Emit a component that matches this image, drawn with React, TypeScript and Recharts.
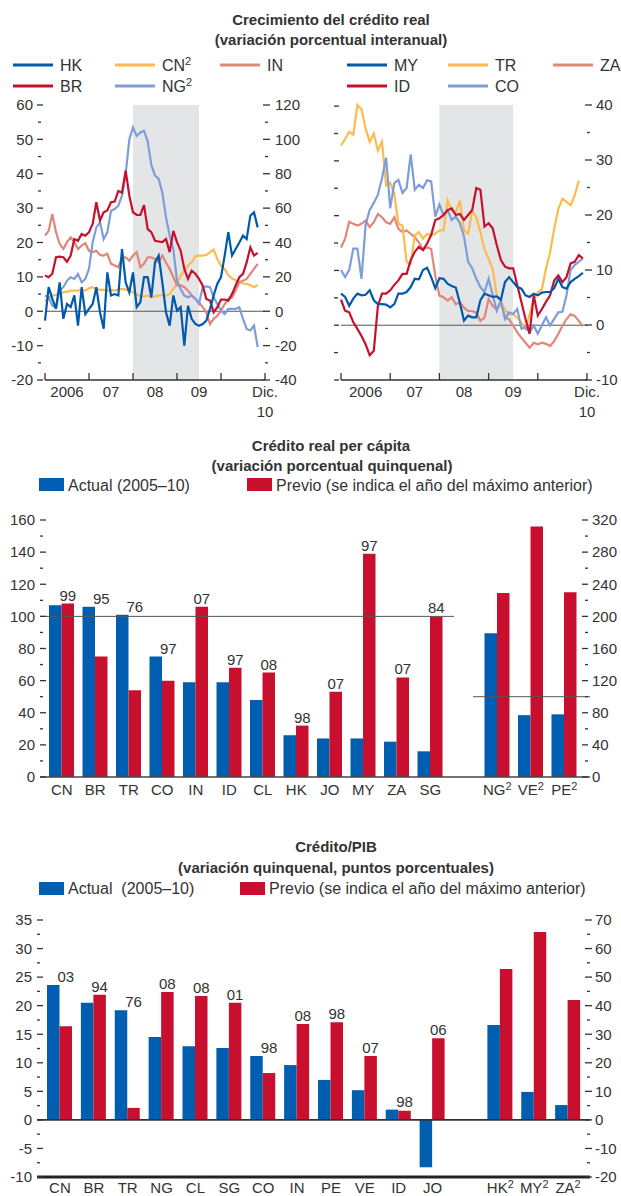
import React from "react";
import {
  LineChart,
  Line,
  XAxis,
  YAxis,
  ReferenceArea,
  ReferenceLine,
  BarChart,
  Bar,
  LabelList,
} from "recharts";

const FONT = '"Liberation Sans", Arial, sans-serif';
const INK = "#333333";
const DARK = "#005aab";
const RED = "#c8102e";
const ORANGE = "#fdbb4d";
const SALMON = "#e0877a";
const LIGHT = "#7f9ed8";
const BAR_BLUE = "#005eb0";
const SHADE = "#e4e5e7";

// ---------- line charts (monthly, Jan 2006 = 0) ----------
const hk = [-2.7, 7, 3.6, 0.7, 8.4, -2.2, 2.1, 1.2, 4.6, -4.2, 7, -0.8, 0.7, 2.1, 7, -0.3, -5.1, 11.3, 4.6, 5, 4.6, 18.1, 8.4, 5.5, 11.3, 1.2, 2.6, 9.9, 9.9, 4, 14.2, 16.2, 8.4, -0.3, -4.2, 4.6, 0.2, 1.2, -10, 1.6, -2.2, -3.7, -4.2, -3.7, -2.7, 0.7, 4.6, 8, 9.9, 16.2, 23, 16.2, 18.1, 20, 22, 21, 27.8, 28.8, 24.4];
const br = [10.4, 9.9, 10.9, 15.7, 15.9, 15.7, 14.4, 16.2, 21, 20.5, 22.5, 22, 23, 25.4, 31.7, 26.4, 28.8, 29.3, 31.7, 31.9, 35, 34.5, 40.9, 33.6, 28.8, 28, 28, 30.9, 23.9, 23, 20.5, 20.3, 20.1, 21, 17.2, 23.4, 20.1, 17.6, 12.3, 9.4, 11.8, 10.9, 9.4, 7.5, 3.6, 3.1, -0.3, 1.2, 3.4, 3.4, 3.1, 5, 7.5, 9.9, 10.9, 14.2, 18.6, 16.2, 17];
const inn = [22, 23.4, 28.3, 23, 19.6, 18.1, 20.1, 21.5, 20.1, 18.1, 19.1, 19.8, 17.6, 17.2, 17.6, 16.4, 16.2, 16.7, 13.8, 13.3, 12.8, 15.7, 15.7, 14.7, 16.2, 17.2, 12.8, 13.8, 15.7, 15.7, 15.2, 14.2, 16.2, 14.2, 12.3, 9.9, 7.5, 7.5, 7, 6, 4.6, 3.6, 2.6, 1.2, -0.3, -3.7, -2.2, -1.3, 0.2, 2.1, 3.6, 4, 6, 8.4, 8.9, 9.4, 10.9, 12.3, 13.8];
const cn = [5.6, 8.2, 9.1, 9.5, 10, 11, 11.4, 12, 12, 12, 12.4, 12, 13.4, 14, 13, 12.4, 12.6, 12, 12.4, 12, 12.6, 13, 12.6, 12, 11, 9.5, 9.1, 8.5, 9.1, 8.1, 8.7, 9.1, 9.5, 9.1, 10, 13, 16, 20.7, 23.6, 26.6, 28.5, 32, 32.4, 32.4, 32.8, 34.3, 35.9, 30.4, 26.6, 24.6, 21, 19, 18, 17.2, 16, 16, 15.3, 14, 15.3];
const ng = [9.1, 8.1, 3.3, 2.3, 12, 14, 17.8, 19.8, 18.8, 21.7, 16.9, 18.8, 24.6, 40.1, 48.8, 51.7, 42, 45.9, 58.5, 59.5, 61.4, 67.2, 79.8, 100, 107, 102, 104, 105, 99, 85, 79, 77, 69, 54.7, 44, 36, 17.8, 13, 9.1, 8.1, 9.1, 7.2, 4.3, 14, 14.5, 14, 8.1, 4.3, 0.4, -1.6, 1.4, 1.4, 1.4, 2.3, -4.5, -10.3, -11.2, -8.3, -20.9];

const tr = [32.8, 34, 35.3, 34.8, 40.2, 39.4, 35.9, 33.5, 35, 31.9, 33.5, 25.5, 26, 24, 18.5, 18.2, 11.5, 11.2, 16.4, 17, 15.8, 16.7, 16.4, 16.7, 17.3, 17.3, 22.8, 20.9, 20.6, 22.8, 17.3, 16.7, 20.9, 19.7, 17, 13.9, 12.1, 10.3, 5.4, 4.2, 2.9, 2, 2, 1.4, 0.5, -0.7, 2, 4.8, 6, 6.6, 10.3, 13.3, 17.6, 21.2, 23.1, 22.5, 21.9, 23.7, 26.4, null];
const co = [10, 8.7, 10, 13.9, 13.9, 8.4, 18.2, 20.9, 22.2, 23.7, 26.7, 30.4, 21.2, 25.8, 26.4, 24, 24.9, 31, 24.6, 25.5, 24.9, 26.3, 26.1, 19.7, 21.9, 20, 20.9, 19.1, 19.7, 18.5, 16.1, 11.5, 10.3, 8.4, 6.9, 6, 8.4, 5.4, 2.6, 4.5, 1.1, 2.3, 2, 2.9, -0.7, -0.4, -1.3, -0.1, -1.6, -0.1, 1.4, -0.1, 1.1, 2.3, 2.4, 5.4, 10, 10.9, 11.5, 12.1];
const za = [14.2, 15.8, 18.9, 18.5, 18.2, 18.5, 19.1, 17.9, 18.8, 20.3, 19.7, 18.8, 18.5, 19.7, 17.6, 17, 17.3, 16.7, 16.1, 15.1, 13.9, 14.2, 13.9, 9, 5.4, 5.1, 4.5, 5.1, 3.8, 4.2, 3.2, 2.6, 2.6, 2.3, 0.8, 1.4, 4.8, 3.5, 2.9, 4.2, 1.4, 1.1, -0.1, -1.3, -2.3, -3.2, -4.1, -3.2, -3.5, -3.2, -3.4, -3.8, -2.9, -1.6, -0.1, 1.1, 2, 1.7, 0.8, -0.2];
const id = [4.6, 2.6, 2.3, 0.5, -0.7, -2, -3.5, -5.5, -4.7, 3.5, 5.7, 5.7, 6.3, 7.3, 8.1, 9.3, 9.3, 11.8, 13.3, 14.2, 13.6, 14.8, 16.4, 19.1, 19.4, 20, 20.9, 21.2, 20, 20.2, 19.1, 20, 20.9, 24.9, 24.6, 17.9, 18.5, 17.6, 14.5, 11.8, 10.6, 10.3, 10.3, 7.2, 4.2, 1.1, -1.6, 5.4, 1.7, 2.9, 4.2, 5.4, 8.1, 9, 7.8, 8.7, 11.2, 11.5, 12.7, 12.1];
const my = [5.7, 5.1, 3.5, 4.8, 5.7, 5.4, 5.5, 6.3, 4.5, 3.8, 3.8, 3.7, 3.2, 3.8, 5.7, 5.7, 6, 6.9, 8.4, 8.3, 10, 10.4, 8.7, 6.7, 8.5, 8.4, 7.5, 7.1, 6.8, 4, 0.8, 1.7, 1.4, 1.4, 4.5, 5.7, 5.4, 5.1, 5.2, 4.6, 7.8, 8.7, 7.8, 6.9, 6.6, 5.4, 5.1, 5.7, 5.4, 5.9, 6, 6, 6.7, 8.4, 6.9, 6.6, 7.8, 8.4, 8.9, 9.5];

const yearTickValues = [0, 12, 24, 36, 48, 60];
const yearTickLabels = ["2006", "07", "08", "09", "", "Dic."];
const lastYearLabel = "10";
const shadeFrom = 24;
const shadeTo = 42;

const leftRows = hk.map((v, i) => ({ m: i, HK: v, BR: br[i], IN: inn[i], CN: cn[i], NG: ng[i] }));
const rightRows = my.map((v, i) => ({ m: i, MY: v, TR: tr[i], ZA: za[i], ID: id[i], CO: co[i] }));

const leftLegend = [
  { key: "HK", color: DARK, sup: false },
  { key: "CN", color: ORANGE, sup: true },
  { key: "IN", color: SALMON, sup: false },
  { key: "BR", color: RED, sup: false },
  { key: "NG", color: LIGHT, sup: true },
];
const rightLegend = [
  { key: "MY", color: DARK, sup: false },
  { key: "TR", color: ORANGE, sup: false },
  { key: "ZA", color: SALMON, sup: false },
  { key: "ID", color: RED, sup: false },
  { key: "CO", color: LIGHT, sup: false },
];

// ---------- real credit per capita ----------
const perCapitaCats = ["CN", "BR", "TR", "CO", "IN", "ID", "CL", "HK", "JO", "MY", "ZA", "SG", "", "NG", "VE", "PE"];
const perCapitaActual = [107, 106, 101, 75, 59, 59, 48, 26, 24, 24, 22, 16, null, 179, 77, 78];
const perCapitaPrevious = [108, 75, 54, 60, 106, 68, 65, 32, 53, 139, 62, 100, null, 229, 312, 230];
const perCapitaPeak = ["99", "95", "76", "97", "07", "97", "08", "98", "07", "97", "07", "84", "", "08", "08", "98"];
const perCapitaRightAxis = ["NG", "VE", "PE"];

// ---------- credit / GDP ----------
const gdpCats = ["CN", "BR", "TR", "NG", "CL", "SG", "CO", "IN", "PE", "VE", "ID", "JO", "", "HK", "MY", "ZA"];
const gdpActual = [23.6, 20.5, 19.2, 14.5, 12.9, 12.6, 11.2, 9.6, 7.0, 5.2, 1.8, -8.3, null, 33.2, 9.8, 5.2];
const gdpPrevious = [16.4, 21.9, 2.1, 22.4, 21.7, 20.5, 8.2, 16.8, 17.1, 11.2, 1.6, 14.3, null, 52.8, 65.8, 42];
const gdpPeak = ["03", "94", "76", "08", "08", "01", "98", "08", "98", "07", "98", "06", "", "97", "97", "07"];
const gdpRightAxis = ["HK", "MY", "ZA"];

const toRows = (cats: string[], cur: (number | null)[], prev: (number | null)[], right: string[]) =>
  cats.map((cat, i) => {
    const r = right.includes(cat);
    return {
      pos: i,
      cat,
      curL: r ? null : cur[i],
      curR: r ? cur[i] : null,
      prevL: r ? null : prev[i],
      prevR: r ? prev[i] : null,
    };
  });

const perCapitaRows = toRows(perCapitaCats, perCapitaActual, perCapitaPrevious, perCapitaRightAxis);
const gdpRows = toRows(gdpCats, gdpActual, gdpPrevious, gdpRightAxis);

// ---------- tick helpers ----------
type TickSpec = { a: number; b: number; ma: number; mb: number; lx: number; anchor: "start" | "end"; every: number; labels?: boolean };

const makeYTick = (s: TickSpec) => (props: any) => {
  const { x, y, payload } = props;
  const v = Number(payload.value);
  const q = v / s.every;
  const major = Math.abs(q - Math.round(q)) < 1e-6;
  return (
    <g>
      <line x1={x + (major ? s.a : s.ma)} x2={x + (major ? s.b : s.mb)} y1={y} y2={y} stroke={INK} strokeWidth={1.3} />
      {major && s.labels !== false && (
        <text x={x + s.lx} y={y} dy={5.3} textAnchor={s.anchor} fontSize={15} fill={INK} fontFamily={FONT}>
          {v}
        </text>
      )}
    </g>
  );
};

const makeYearTick = (half: number) => (props: any) => {
  const { x, y, payload } = props;
  const k = Math.round(Number(payload.value) / 12);
  const label = yearTickLabels[k];
  const last = k === yearTickLabels.length - 1;
  return (
    <g>
      <line x1={x} x2={x} y1={y - 7} y2={y} stroke={INK} strokeWidth={1.3} />
      {label && !last && (
        <text x={x + half} y={y + 17} textAnchor="middle" fontSize={15} fill={INK} fontFamily={FONT}>
          {label}
        </text>
      )}
      {last && (
        <text textAnchor="middle" fontSize={15} fill={INK} fontFamily={FONT}>
          <tspan x={x} y={y + 17}>{label}</tspan>
          <tspan x={x} y={y + 37}>{lastYearLabel}</tspan>
        </text>
      )}
    </g>
  );
};

const makeCatTick = (sup: string[], dy: number) => (props: any) => {
  const { x, y, payload } = props;
  const name = String(payload.value);
  return (
    <text x={x} y={y + dy} textAnchor="middle" fontSize={15} fill={INK} fontFamily={FONT}>
      {name}
      {sup.includes(name) && (
        <tspan dy={-5} fontSize={11}>
          2
        </tspan>
      )}
    </text>
  );
};

const makePeakLabel = (
  cats: string[],
  cur: (number | null)[],
  prev: (number | null)[],
  peaks: string[],
  right: string[],
  onRight: boolean
) => (props: any) => {
  const idx = props.index;
  if (idx == null) return null;
  const cat = cats[idx];
  if (!cat || right.includes(cat) !== onRight) return null;
  const p = prev[idx];
  const c = cur[idx];
  if (p == null || c == null) return null;
  const vb = props.viewBox || {};
  const x = Number(props.x ?? vb.x);
  const y = Number(props.y ?? vb.y);
  const w = Number(props.width ?? vb.width);
  const h = Number(props.height ?? vb.height);
  const base = y + h;
  const top = base - (h * Math.max(p, c, 0)) / p;
  return (
    <text x={x + w / 2} y={top - 3} textAnchor="middle" fontSize={15} fill={INK} fontFamily={FONT}>
      {peaks[idx]}
    </text>
  );
};

function Legend({ items, xs, ys }: { items: { key: string; color: string; sup: boolean }[]; xs: number[]; ys: number[] }) {
  return (
    <>
      {items.map((it, i) => {
        const x = xs[i % 3];
        const y = ys[Math.floor(i / 3)];
        return (
          <g key={it.key}>
            <line x1={x} x2={x + 40} y1={y} y2={y} stroke={it.color} strokeWidth={3} />
            <text x={x + 47} y={y + 6} fontSize={16} fill={INK} fontFamily={FONT}>
              {it.key}
              {it.sup && (
                <tspan dy={-6} fontSize={11}>
                  2
                </tspan>
              )}
            </text>
          </g>
        );
      })}
    </>
  );
}

const lineProps = { type: "linear" as const, dot: false, strokeWidth: 2.2, isAnimationActive: false };

export default function App() {
  return (
    <div style={{ position: "relative", width: 621, height: 1196, overflow: "hidden", background: "#fff", fontFamily: FONT }}>
      <style>{`html,body{margin:0;padding:0;overflow:hidden;background:#fff}`}</style>

      {/* left line chart */}
      <div style={{ position: "absolute", left: 0, top: 95 }}>
        <LineChart width={310} height={325} data={leftRows} margin={{ top: 10, right: 0, bottom: 5, left: 0 }}>
          <ReferenceArea x1={shadeFrom} x2={shadeTo} yAxisId="l" fill={SHADE} fillOpacity={1} stroke="none" />
          <XAxis
            type="number"
            dataKey="m"
            domain={[0, 60]}
            ticks={yearTickValues}
            interval={0}
            height={35}
            tickSize={0}
            tickMargin={0}
            tickLine={false}
            axisLine={{ stroke: INK, strokeWidth: 1.3 }}
            tick={makeYearTick(22)}
          />
          <YAxis
            yAxisId="l"
            domain={[-20, 60]}
            ticks={[-20, -15, -10, -5, 0, 5, 10, 15, 20, 25, 30, 35, 40, 45, 50, 55, 60]}
            interval={0}
            width={45}
            tickSize={0}
            tickMargin={0}
            tickLine={false}
            axisLine={false}
            tick={makeYTick({ a: -8, b: -2, ma: -7, mb: -4, lx: -12, anchor: "end", every: 10 })}
          />
          <YAxis
            yAxisId="r"
            orientation="right"
            domain={[-40, 120]}
            ticks={[-40, -30, -20, -10, 0, 10, 20, 30, 40, 50, 60, 70, 80, 90, 100, 110, 120]}
            interval={0}
            width={45}
            tickSize={0}
            tickMargin={0}
            tickLine={false}
            axisLine={false}
            tick={makeYTick({ a: -2, b: 5, ma: 0, mb: 3, lx: 10, anchor: "start", every: 20 })}
          />
          <ReferenceLine y={0} yAxisId="l" stroke="#555" strokeWidth={1} />
          <Line {...lineProps} yAxisId="r" dataKey="CN" stroke={ORANGE} />
          <Line {...lineProps} yAxisId="l" dataKey="IN" stroke={SALMON} />
          <Line {...lineProps} yAxisId="r" dataKey="NG" stroke={LIGHT} />
          <Line {...lineProps} yAxisId="l" dataKey="BR" stroke={RED} />
          <Line {...lineProps} yAxisId="l" dataKey="HK" stroke={DARK} />
        </LineChart>
      </div>

      {/* right line chart (both axes share one scale) */}
      <div style={{ position: "absolute", left: 300, top: 95 }}>
        <LineChart width={321} height={325} data={rightRows} margin={{ top: 10, right: 0, bottom: 5, left: 0 }}>
          <ReferenceArea x1={shadeFrom} x2={shadeTo} yAxisId="l" fill={SHADE} fillOpacity={1} stroke="none" />
          <XAxis
            type="number"
            dataKey="m"
            domain={[0, 60]}
            ticks={yearTickValues}
            interval={0}
            height={35}
            tickSize={0}
            tickMargin={0}
            tickLine={false}
            axisLine={{ stroke: INK, strokeWidth: 1.3 }}
            tick={makeYearTick(24.6)}
          />
          <YAxis
            yAxisId="l"
            domain={[-10, 40]}
            ticks={[-10, -5, 0, 5, 10, 15, 20, 25, 30, 35, 40]}
            interval={0}
            width={41}
            tickSize={0}
            tickMargin={0}
            tickLine={false}
            axisLine={false}
            tick={makeYTick({ a: -7, b: -2, ma: -7, mb: -3, lx: -10, anchor: "end", every: 10, labels: false })}
          />
          <YAxis
            yAxisId="r"
            orientation="right"
            domain={[-10, 40]}
            ticks={[-10, -5, 0, 5, 10, 15, 20, 25, 30, 35, 40]}
            interval={0}
            width={34}
            tickSize={0}
            tickMargin={0}
            tickLine={false}
            axisLine={false}
            tick={makeYTick({ a: -2, b: 5, ma: 0, mb: 3, lx: 9, anchor: "start", every: 10 })}
          />
          <ReferenceLine y={0} yAxisId="l" stroke="#555" strokeWidth={1} />
          <Line {...lineProps} yAxisId="l" dataKey="ZA" stroke={SALMON} />
          <Line {...lineProps} yAxisId="l" dataKey="TR" stroke={ORANGE} />
          <Line {...lineProps} yAxisId="r" dataKey="CO" stroke={LIGHT} />
          <Line {...lineProps} yAxisId="r" dataKey="ID" stroke={RED} />
          <Line {...lineProps} yAxisId="r" dataKey="MY" stroke={DARK} />
        </LineChart>
      </div>

      {/* real credit per capita */}
      <div style={{ position: "absolute", left: 0, top: 500 }}>
        <BarChart width={621} height={310} data={perCapitaRows} margin={{ top: 20, right: 0, bottom: 3, left: 0 }} barSize={12.5} barGap={0}>
          <XAxis
            dataKey="cat"
            height={30}
            padding={{ left: 5, right: 9 }}
            interval={0}
            tickSize={0}
            tickMargin={0}
            tickLine={false}
            axisLine={{ stroke: "#444", strokeWidth: 1.6 }}
            tick={makeCatTick(perCapitaRightAxis, 18)}
          />
          <XAxis
            xAxisId="seg"
            dataKey="pos"
            type="number"
            domain={[-0.5, 15.5]}
            allowDataOverflow
            hide
            padding={{ left: 5, right: 9 }}
          />
          <YAxis
            yAxisId="l"
            domain={[0, 160]}
            ticks={[0, 10, 20, 30, 40, 50, 60, 70, 80, 90, 100, 110, 120, 130, 140, 150, 160]}
            interval={0}
            width={40}
            tickSize={0}
            tickMargin={0}
            tickLine={false}
            axisLine={false}
            tick={makeYTick({ a: 0, b: 6, ma: 0, mb: 3, lx: -5, anchor: "end", every: 20 })}
          />
          <YAxis
            yAxisId="r"
            orientation="right"
            domain={[0, 320]}
            ticks={[0, 20, 40, 60, 80, 100, 120, 140, 160, 180, 200, 220, 240, 260, 280, 300, 320]}
            interval={0}
            width={31}
            tickSize={0}
            tickMargin={0}
            tickLine={false}
            axisLine={false}
            tick={makeYTick({ a: -8, b: -2, ma: -5, mb: -2, lx: 2, anchor: "start", every: 40 })}
          />
          <Bar dataKey="curL" yAxisId="l" stackId="cur" fill={BAR_BLUE} isAnimationActive={false} />
          <Bar dataKey="curR" yAxisId="r" stackId="cur" fill={BAR_BLUE} isAnimationActive={false} />
          <Bar dataKey="prevL" yAxisId="l" stackId="prev" fill={RED} isAnimationActive={false}>
            <LabelList content={makePeakLabel(perCapitaCats, perCapitaActual, perCapitaPrevious, perCapitaPeak, perCapitaRightAxis, false)} />
          </Bar>
          <Bar dataKey="prevR" yAxisId="r" stackId="prev" fill={RED} isAnimationActive={false}>
            <LabelList content={makePeakLabel(perCapitaCats, perCapitaActual, perCapitaPrevious, perCapitaPeak, perCapitaRightAxis, true)} />
          </Bar>
          <ReferenceLine
            xAxisId="seg"
            yAxisId="l"
            segment={[{ x: -0.65, y: 100 }, { x: 11.71, y: 100 }]}
            ifOverflow="visible"
            stroke="#555"
            strokeWidth={1}
          />
          <ReferenceLine
            xAxisId="seg"
            yAxisId="r"
            segment={[{ x: 12.28, y: 100 }, { x: 15.77, y: 100 }]}
            ifOverflow="visible"
            stroke="#555"
            strokeWidth={1}
          />
        </BarChart>
      </div>

      {/* credit / GDP */}
      <div style={{ position: "absolute", left: 0, top: 900 }}>
        <BarChart width={621} height={310} data={gdpRows} margin={{ top: 20, right: 0, bottom: 3, left: 0 }} barSize={12.5} barGap={0}>
          <XAxis
            dataKey="cat"
            height={30}
            padding={{ left: 6, right: 5 }}
            interval={0}
            tickSize={0}
            tickMargin={0}
            tickLine={false}
            axisLine={{ stroke: "#222", strokeWidth: 3 }}
            tick={makeCatTick(gdpRightAxis, 16)}
          />
          <YAxis
            yAxisId="l"
            domain={[-10, 35]}
            ticks={[-10, -7.5, -5, -2.5, 0, 2.5, 5, 7.5, 10, 12.5, 15, 17.5, 20, 22.5, 25, 27.5, 30, 32.5, 35]}
            interval={0}
            width={37}
            tickSize={0}
            tickMargin={0}
            tickLine={false}
            axisLine={false}
            tick={makeYTick({ a: 0, b: 6, ma: 0, mb: 3, lx: -5, anchor: "end", every: 5 })}
          />
          <YAxis
            yAxisId="r"
            orientation="right"
            domain={[-20, 70]}
            ticks={[-20, -15, -10, -5, 0, 5, 10, 15, 20, 25, 30, 35, 40, 45, 50, 55, 60, 65, 70]}
            interval={0}
            width={31}
            tickSize={0}
            tickMargin={0}
            tickLine={false}
            axisLine={false}
            tick={makeYTick({ a: -5, b: 2, ma: -3, mb: 0, lx: 5, anchor: "start", every: 10 })}
          />
          <Bar dataKey="curL" yAxisId="l" stackId="cur" fill={BAR_BLUE} isAnimationActive={false} />
          <Bar dataKey="curR" yAxisId="r" stackId="cur" fill={BAR_BLUE} isAnimationActive={false} />
          <Bar dataKey="prevL" yAxisId="l" stackId="prev" fill={RED} isAnimationActive={false}>
            <LabelList content={makePeakLabel(gdpCats, gdpActual, gdpPrevious, gdpPeak, gdpRightAxis, false)} />
          </Bar>
          <Bar dataKey="prevR" yAxisId="r" stackId="prev" fill={RED} isAnimationActive={false}>
            <LabelList content={makePeakLabel(gdpCats, gdpActual, gdpPrevious, gdpPeak, gdpRightAxis, true)} />
          </Bar>
          <ReferenceLine y={0} yAxisId="l" stroke="#333" strokeWidth={1.6} />
        </BarChart>
      </div>

      {/* titles and legends */}
      <svg width={621} height={1196} style={{ position: "absolute", left: 0, top: 0, pointerEvents: "none" }}>
        <g fontFamily={FONT} fill={INK}>
          <text x={331} y={25} textAnchor="middle" fontWeight="bold" fontSize={15}>
            Crecimiento del crédito real
          </text>
          <text x={331} y={45} textAnchor="middle" fontWeight="bold" fontSize={15}>
            (variación porcentual interanual)
          </text>
          <Legend items={leftLegend} xs={[13, 115, 220]} ys={[65, 86]} />
          <Legend items={rightLegend} xs={[347, 448, 553]} ys={[65, 86]} />

          <text x={331} y={451} textAnchor="middle" fontWeight="bold" fontSize={15}>
            Crédito real per cápita
          </text>
          <text x={332} y={471} textAnchor="middle" fontWeight="bold" fontSize={15}>
            (variación porcentual quinquenal)
          </text>
          <rect x={39} y={478} width={25} height={13} fill={BAR_BLUE} />
          <text x={68} y={491} fontSize={16}>
            Actual (2005–10)
          </text>
          <rect x={247} y={478} width={25} height={13} fill={RED} />
          <text x={276} y={491} fontSize={16}>
            Previo (se indica el año del máximo anterior)
          </text>

          <text x={336} y={852} textAnchor="middle" fontWeight="bold" fontSize={15}>
            Crédito/PIB
          </text>
          <text x={336} y={873} textAnchor="middle" fontWeight="bold" fontSize={15}>
            (variación quinquenal, puntos porcentuales)
          </text>
          <rect x={39} y={882} width={25} height={13} fill={BAR_BLUE} />
          <text x={68} y={894} fontSize={16} xmlSpace="preserve">
            Actual  (2005–10)
          </text>
          <rect x={240} y={882} width={25} height={13} fill={RED} />
          <text x={269} y={894} fontSize={16}>
            Previo (se indica el año del máximo anterior)
          </text>
        </g>
      </svg>
    </div>
  );
}
